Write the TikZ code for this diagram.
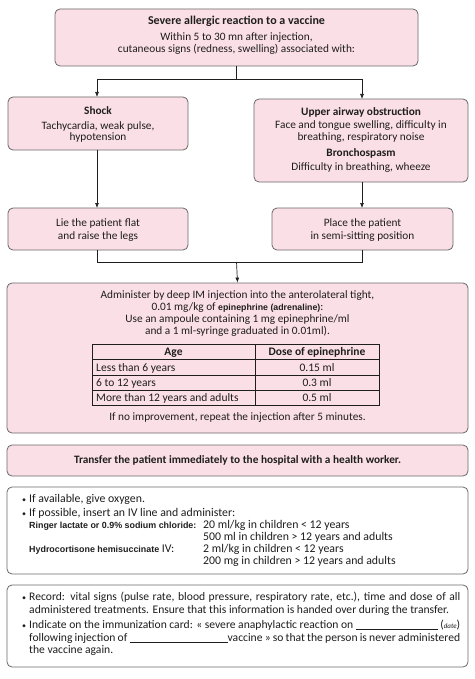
\documentclass[tikz,border=0pt]{standalone}
\usepackage{fontspec}
\setmainfont{Carlito}
\newfontfamily\arialfont{Liberation Sans}
\usetikzlibrary{arrows.meta}
\definecolor{boxpink}{RGB}{251,223,231}
\definecolor{boxline}{RGB}{105,105,105}
\definecolor{ink}{RGB}{30,30,30}
\tikzset{
  pinkbox/.style={draw=boxline, fill=boxpink, rounded corners=5pt, line width=0.8pt, inner sep=0pt},
  whitebox/.style={draw=boxline, fill=white, rounded corners=5pt, line width=0.8pt, inner sep=0pt},
  txt/.style={inner sep=0pt, text=ink, align=center},
  ltxt/.style={inner sep=0pt, text=ink, anchor=base west, font=\fontsize{11.8}{13}\selectfont},
  conn/.style={draw=ink, line width=0.7pt},
  arr/.style={conn, -{Latex[length=5pt,width=4pt]}},
  tabline/.style={draw=ink, line width=0.7pt},
}
\newcommand{\mybold}[1]{{\arialfont\bfseries\fontsize{8.8}{10}\selectfont #1}}
\newcommand{\mybig}[1]{{\arialfont\bfseries\fontsize{8.9}{12}\selectfont #1}}
\begin{document}
\begin{tikzpicture}[x=1pt,y=-1pt,font=\fontsize{11.3}{12}\selectfont]
\useasboundingbox (0,0) rectangle (474,679);
\fill[white] (0,0) rectangle (474,679);

% top box
\node[pinkbox, minimum width=363pt, minimum height=57pt] (top) at (236.5,37.5) {};
\node[txt, anchor=north] (toptxt) at (236.5,16) {{\fontsize{12}{12}\selectfont\bfseries Severe allergic reaction to a vaccine}\\[4pt] Within 5 to 30 mn after injection,\\ cutaneous signs (redness, swelling) associated with:};

% shock
\node[pinkbox, minimum width=180pt, minimum height=53pt] (shock) at (98,123.5) {};
\node[txt, anchor=north, font=\fontsize{11.3}{11}\selectfont] (shocktxt) at (98,106) {{\bfseries Shock}\\[4pt] Tachycardia, weak pulse,\\ hypotension};

% airway
\node[pinkbox, minimum width=214pt, minimum height=83pt] (airway) at (361,140.5) {};
\node[txt, anchor=north] (airwaytxt) at (361,107) {{\bfseries Upper airway obstruction}\\[1pt] Face and tongue swelling, difficulty in\\ breathing, respiratory noise\\[4pt] {\bfseries Bronchospasm}\\[2pt] Difficulty in breathing, wheeze};

% lie / place
\node[pinkbox, minimum width=180pt, minimum height=42pt] (lie) at (98,229) {};
\node[txt, anchor=north, font=\fontsize{11.3}{13}\selectfont] (lietxt) at (98,218) {Lie the patient flat\\ and raise the legs};
\node[pinkbox, minimum width=181pt, minimum height=42pt] (place) at (362.5,229) {};
\node[txt, anchor=north, font=\fontsize{11.3}{13}\selectfont] (placetxt) at (362.5,218) {Place the patient\\ in semi-sitting position};

% administer
\node[pinkbox, minimum width=461pt, minimum height=150pt] (admin) at (237.5,358) {};
\node[txt, anchor=north, font=\fontsize{11.3}{12.3}\selectfont] (admintxt) at (237.5,290) {Administer by deep IM injection into the anterolateral tight,\\ 0.01 mg/kg of \mybold{epinephrine (adrenaline)}:\\ Use an ampoule containing 1 mg epinephrine/ml\\ and a 1 ml-syringe graduated in 0.01ml).};
\draw[tabline] (92,344) rectangle (379,405);
\draw[tabline] (92,359) -- (379,359);
\draw[tabline] (92,375) -- (379,375);
\draw[tabline] (92,390) -- (379,390);
\draw[tabline] (255,344) -- (255,405);
\node[txt, anchor=base, font=\fontsize{11.5}{12}\selectfont] (hage) at (173.5,355) {\bfseries Age};
\node[txt, anchor=base, font=\fontsize{11.5}{12}\selectfont] (hdose) at (317,355) {\bfseries Dose of epinephrine};
\node[ltxt, font=\fontsize{11.5}{12}\selectfont] (r1a) at (96,371) {Less than 6 years};
\node[txt, anchor=base, font=\fontsize{11.5}{12}\selectfont] (r1b) at (317,371) {0.15 ml};
\node[ltxt, font=\fontsize{11.5}{12}\selectfont] (r2a) at (96,386) {6 to 12 years};
\node[txt, anchor=base, font=\fontsize{11.5}{12}\selectfont] (r2b) at (317,386) {0.3 ml};
\node[ltxt, font=\fontsize{11.5}{12}\selectfont] (r3a) at (96,401) {More than 12 years and adults};
\node[txt, anchor=base, font=\fontsize{11.5}{12}\selectfont] (r3b) at (317,401) {0.5 ml};
\node[txt, anchor=base] (repeat) at (237.5,420) {If no improvement, repeat the injection after 5 minutes.};

% transfer
\node[pinkbox, minimum width=461pt, minimum height=31pt, text=ink] (transfer) at (237.5,460.5) {\bfseries Transfer the patient immediately to the hospital with a health worker.};

% oxygen box
\node[whitebox, minimum width=461pt, minimum height=87pt] (oxy) at (237.5,530.5) {};
\node[ltxt] (b1) at (22,502) {\footnotesize •};
\node[ltxt] (o1) at (29,502) {If available, give oxygen.};
\node[ltxt] (b2) at (22,516) {\footnotesize •};
\node[ltxt] (o2) at (29,516) {If possible, insert an IV line and administer:};
\node[ltxt] (o3) at (29,528) {\mybig{Ringer lactate or 0.9\% sodium chloride:}};
\node[ltxt] (o4) at (203,528) {20 ml/kg in children < 12 years};
\node[ltxt] (o5) at (203,540) {500 ml in children > 12 years and adults};
\node[ltxt] (o6) at (29,552) {\mybig{Hydrocortisone hemisuccinate} IV:};
\node[ltxt] (o7) at (203,552) {2 ml/kg in children < 12 years};
\node[ltxt] (o8) at (203,564) {200 mg in children > 12 years and adults};

% record box
\node[whitebox, minimum width=461pt, minimum height=82pt] (rec) at (237.5,626) {};
\node[ltxt] (b3) at (22,600) {\footnotesize •};
\node[inner sep=0pt, text=ink, anchor=north west, text width=431pt, align=justify, font=\fontsize{11.6}{13}\selectfont] (rec1) at (29,592) {Record: vital signs (pulse rate, blood pressure, respiratory rate, etc.), time and dose of all\linebreak administered treatments. Ensure that this information is handed over during the transfer.};
\node[ltxt] (b4) at (22,628) {\footnotesize •};
\node[inner sep=0pt, text=ink, anchor=north west, text width=431pt, align=justify, font=\fontsize{11.6}{12.5}\selectfont] (rec2) at (29,620) {Indicate on the immunization card: «~severe anaphylactic reaction on \rule[-1pt]{82pt}{0.5pt} ({\scriptsize\itshape date})\linebreak following injection of \rule[-1pt]{98pt}{0.5pt}vaccine~» so that the person is never administered\linebreak the vaccine again.};

% connectors
\coordinate (split) at (236.5,79);
\draw[conn] (top.south) -- (split);
\draw[arr] (split) -| (97,97);
\draw[arr] (split) -| (362,99);
\draw[arr] (97,150) -- (97,208);
\draw[arr] (362,182) -- (362,208);
\coordinate (merge) at (236.5,262);
\draw[conn] (97,250) |- (merge);
\draw[conn] (362,250) |- (merge);
\draw[arr] (merge) -- (admin.north);
\end{tikzpicture}
\end{document}
